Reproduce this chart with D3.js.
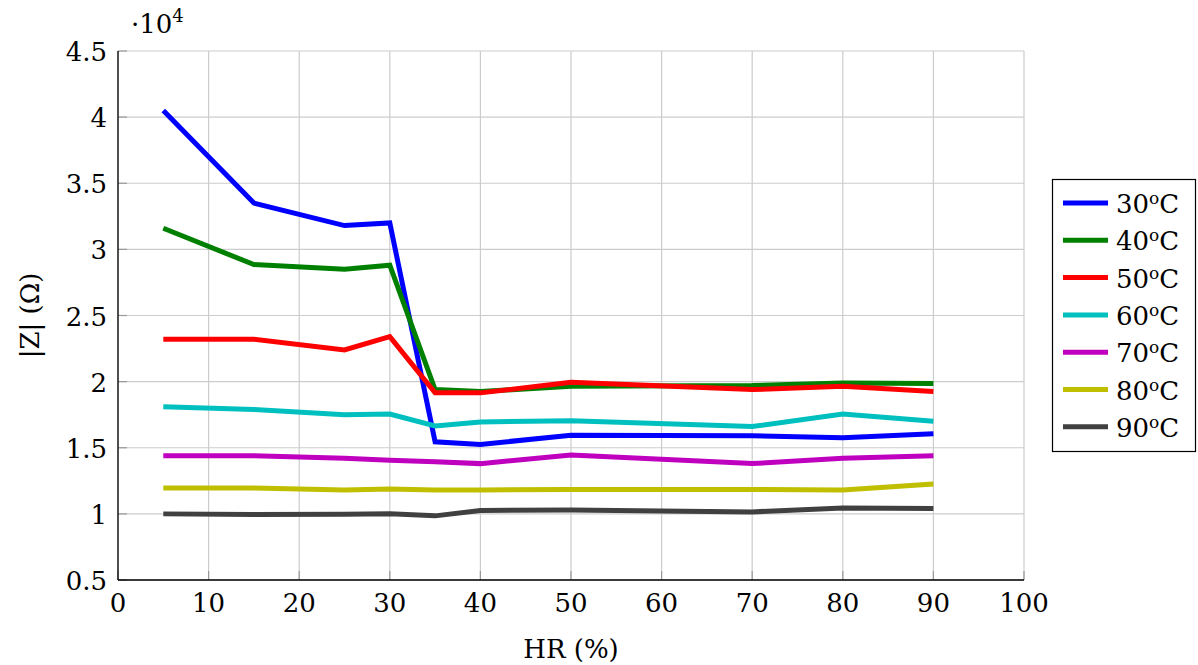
<!DOCTYPE html>
<html>
<head>
<meta charset="utf-8">
<script src="https://cdn.jsdelivr.net/npm/d3@7"></script>
<style>
  html, body { margin: 0; padding: 0; background: #fff; }
  svg { display: block; }
</style>
</head>
<body>
<svg width="1198" height="665"></svg>
<script>
// humidity (%) measured
const hr = [5, 15, 25, 30, 35, 40, 50, 70, 80, 90];

// |Z| in ohms for each temperature
const z30 = [40500, 33500, 31800, 32000, 15450, 15250, 15950, 15900, 15750, 16050];
const z40 = [31600, 28850, 28500, 28800, 19400, 19250, 19650, 19700, 19900, 19850];
const z50 = [23200, 23200, 22400, 23400, 19150, 19150, 19950, 19400, 19650, 19250];
const z60 = [18100, 17900, 17500, 17550, 16650, 16950, 17050, 16600, 17550, 17000];
const z70 = [14400, 14400, 14200, 14050, 13950, 13800, 14450, 13800, 14200, 14400];
const z80 = [11950, 11950, 11800, 11880, 11800, 11800, 11850, 11850, 11800, 12250];
const z90 = [10000, 9950, 9980, 10000, 9850, 10250, 10300, 10150, 10450, 10400];

const seriesNames = ['30', '40', '50', '60', '70', '80', '90'];
const colors = ['#0000ff', '#008000', '#ff0000', '#00bfbf', '#bf00bf', '#bfbf00', '#404040'];

const xTicks = d3.range(0, 101, 10);
const yTicks = d3.range(5000, 45001, 5000);

const series = [z30, z40, z50, z60, z70, z80, z90].map((vals, i) => ({
    name: seriesNames[i],
    color: colors[i],
    points: vals.map((v, j) => ({x: hr[j], y: v}))
}));

const svg = d3.select('svg')
    .attr('font-family', "'DejaVu Serif', serif");
const plotL = 118, plotR = 1024, plotT = 51, plotB = 580;
const fs = 26;

const x = d3.scaleLinear().domain([0, 100]).range([plotL, plotR]);
const y = d3.scaleLinear().domain([5000, 45000]).range([plotB, plotT]);

// grid
const grid = svg.append('g');
grid.selectAll('.gx').data(xTicks).enter().append('line')
    .attr('x1', d => x(d)).attr('x2', d => x(d))
    .attr('y1', plotT).attr('y2', plotB)
    .attr('stroke', '#cccccc').attr('stroke-width', 1.2);
grid.selectAll('.gy').data(yTicks).enter().append('line')
    .attr('x1', plotL).attr('x2', plotR)
    .attr('y1', d => y(d)).attr('y2', d => y(d))
    .attr('stroke', '#cccccc').attr('stroke-width', 1.2);

// small inner ticks
grid.selectAll('.tx').data(xTicks).enter().append('line')
    .attr('x1', d => x(d)).attr('x2', d => x(d))
    .attr('y1', plotB).attr('y2', plotB - 9)
    .attr('stroke', '#9a9a9a').attr('stroke-width', 1.2);
grid.selectAll('.ty').data(yTicks).enter().append('line')
    .attr('x1', plotL).attr('x2', plotL + 9)
    .attr('y1', d => y(d)).attr('y2', d => y(d))
    .attr('stroke', '#9a9a9a').attr('stroke-width', 1.2);

// axes lines (left and bottom)
svg.append('line').attr('x1', plotL).attr('x2', plotL).attr('y1', plotT).attr('y2', plotB)
    .attr('stroke', '#000').attr('stroke-width', 1.3);
svg.append('line').attr('x1', plotL).attr('x2', plotR).attr('y1', plotB).attr('y2', plotB)
    .attr('stroke', '#000').attr('stroke-width', 1.3);

// tick labels
svg.append('g').selectAll('text').data(xTicks).enter().append('text')
    .attr('x', d => x(d)).attr('y', 612)
    .attr('text-anchor', 'middle')
    .attr('font-size', fs)
    .text(d => d);

const fmt = d3.format('~g');
svg.append('g').selectAll('text').data(yTicks).enter().append('text')
    .attr('x', 107).attr('y', d => y(d) + 10)
    .attr('text-anchor', 'end')
    .attr('font-size', fs)
    .text(d => fmt(d / 1e4));

// multiplier
const mult = svg.append('text').attr('x', 131).attr('y', 33).attr('font-size', fs);
mult.append('tspan').text('·10');
mult.append('tspan').attr('dy', -11).attr('font-size', 18).text('4');

// axis titles
svg.append('text')
    .attr('x', (plotL + plotR) / 2).attr('y', 658)
    .attr('text-anchor', 'middle')
    .attr('font-size', fs)
    .text('HR (%)');
svg.append('text')
    .attr('transform', `translate(39,${(plotT + plotB) / 2}) rotate(-90)`)
    .attr('text-anchor', 'middle')
    .attr('font-size', fs)
    .text('|Z| (Ω)');

// lines
const line = d3.line().x(d => x(d.x)).y(d => y(d.y));
svg.append('g').selectAll('path').data(series).enter().append('path')
    .attr('d', d => line(d.points))
    .attr('fill', 'none')
    .attr('stroke', d => d.color)
    .attr('stroke-width', 5)
    .attr('stroke-linejoin', 'miter');

// legend
const lg = svg.append('g');
lg.append('rect')
    .attr('x', 1052.5).attr('y', 179.5).attr('width', 143).attr('height', 272)
    .attr('fill', '#fff').attr('stroke', '#000').attr('stroke-width', 1.2);
const rows = lg.selectAll('g.row').data(series).enter().append('g')
    .attr('transform', (d, i) => `translate(0,${203 + i * 37.3})`);
rows.append('line')
    .attr('x1', 1063).attr('x2', 1108).attr('y1', 0).attr('y2', 0)
    .attr('stroke', d => d.color).attr('stroke-width', 5);
const lt = rows.append('text')
    .attr('x', 1116).attr('y', 10)
    .attr('font-size', fs);
lt.append('tspan').text(d => d.name);
lt.append('tspan').attr('dy', -9).attr('font-size', 17).text('o');
lt.append('tspan').attr('dy', 9).text('C');
</script>
</body>
</html>
